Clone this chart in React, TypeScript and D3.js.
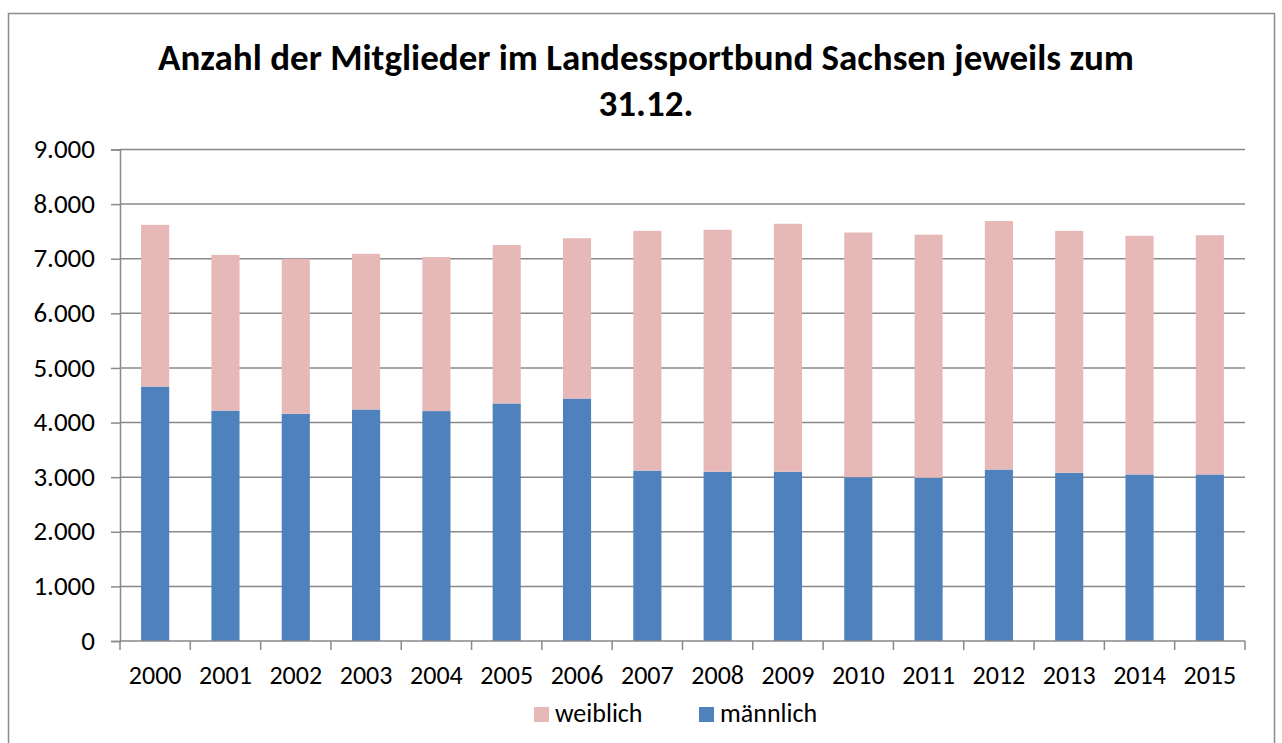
import React, { useEffect, useRef } from 'react';
import * as d3 from 'd3';

// Data
const years = ['2000', '2001', '2002', '2003', '2004', '2005', '2006', '2007',
  '2008', '2009', '2010', '2011', '2012', '2013', '2014', '2015'];
const maennlich = [4660, 4220, 4160, 4240, 4210, 4350, 4440, 3120,
  3100, 3100, 3000, 2990, 3140, 3080, 3050, 3050];
const weiblich = [2960, 2850, 2840, 2850, 2820, 2900, 2935, 4390,
  4430, 4540, 4480, 4450, 4550, 4430, 4370, 4380];
const yTicks = [0, 1000, 2000, 3000, 4000, 5000, 6000, 7000, 8000, 9000];
const titleLines = ['Anzahl der Mitglieder im Landessportbund Sachsen jeweils zum', '31.12.'];

const W = 1282;
const H = 743;
const FONT = "Carlito, Calibri, 'Open Sans', sans-serif";

const App = () => {
  const svgRef = useRef<SVGSVGElement | null>(null);

  useEffect(() => {
    if (!svgRef.current) return;
    const svg = d3.select(svgRef.current);
    svg.selectAll('*').remove();

    const left = 120, right = 1245, top = 149.5, bottom = 641;
    const grid = '#898989';

    // outer frame
    svg.append('rect')
      .attr('x', 8.5).attr('y', 13.5)
      .attr('width', 1266).attr('height', 800)
      .attr('fill', '#fff')
      .attr('stroke', '#8c8c8c')
      .attr('stroke-width', 1.5);

    // title
    svg.append('g')
      .selectAll('text')
      .data(titleLines)
      .join('text')
      .attr('x', 646)
      .attr('y', (d, i) => 70 + i * 46)
      .attr('text-anchor', 'middle')
      .attr('font-family', FONT)
      .attr('font-weight', 'bold')
      .attr('font-size', 37)
      .attr('fill', '#000')
      .text(d => d);

    const x = d3.scaleBand()
      .domain(years)
      .range([left, right])
      .paddingInner(0.6)
      .paddingOuter(0.3);

    const y = d3.scaleLinear()
      .domain([0, 9000])
      .range([bottom, top]);

    const fmt = d3.formatLocale({ decimal: ',', thousands: '.', grouping: [3], currency: ['', '€'] }).format(',');

    // grid lines
    svg.append('g')
      .selectAll('line')
      .data(yTicks.filter(t => t > 0))
      .join('line')
      .attr('x1', left).attr('x2', right)
      .attr('y1', d => y(d)).attr('y2', d => y(d))
      .attr('stroke', grid)
      .attr('stroke-width', 1.5);

    // stacked bars
    const rows = years.map((yr, i) => ({ year: yr, maennlich: maennlich[i], weiblich: weiblich[i] }));
    const stack = d3.stack<any>().keys(['maennlich', 'weiblich'])(rows);
    const colors: Record<string, string> = { maennlich: '#4F81BD', weiblich: '#E6B9B8' };

    svg.append('g')
      .selectAll('g')
      .data(stack)
      .join('g')
      .attr('fill', d => colors[d.key])
      .selectAll('rect')
      .data(d => d)
      .join('rect')
      .attr('x', d => x(d.data.year)!)
      .attr('width', x.bandwidth())
      .attr('y', d => y(d[1]))
      .attr('height', d => y(d[0]) - y(d[1]));

    // y axis
    const yAxis = svg.append('g')
      .attr('transform', `translate(${left},0)`)
      .call(d3.axisLeft(y).tickValues(yTicks).tickSize(9).tickPadding(16).tickFormat(d => fmt(d as number)));
    yAxis.select('.domain').attr('stroke', grid).attr('stroke-width', 1.5);
    yAxis.selectAll('.tick line').attr('stroke', grid).attr('stroke-width', 1.5);
    yAxis.selectAll('.tick text')
      .attr('font-family', FONT)
      .attr('font-size', 27)
      .attr('fill', '#000')
      .attr('dy', '0.3em');

    // x axis: line plus ticks at category boundaries
    const step = (right - left) / years.length;
    svg.append('line')
      .attr('x1', left).attr('x2', right)
      .attr('y1', bottom).attr('y2', bottom)
      .attr('stroke', grid).attr('stroke-width', 1.5);
    svg.append('g')
      .selectAll('line')
      .data(d3.range(years.length + 1))
      .join('line')
      .attr('x1', i => left + i * step).attr('x2', i => left + i * step)
      .attr('y1', bottom).attr('y2', bottom + 9)
      .attr('stroke', grid).attr('stroke-width', 1.5);
    svg.append('g')
      .selectAll('text')
      .data(years)
      .join('text')
      .attr('x', d => x(d)! + x.bandwidth() / 2)
      .attr('y', 684)
      .attr('text-anchor', 'middle')
      .attr('font-family', FONT)
      .attr('font-size', 26)
      .attr('fill', '#000')
      .text(d => d);

    // legend
    const legend = [
      { key: 'weiblich', label: 'weiblich', x: 534 },
      { key: 'maennlich', label: 'männlich', x: 699 },
    ];
    const lg = svg.append('g').selectAll('g').data(legend).join('g')
      .attr('transform', d => `translate(${d.x},707)`);
    lg.append('rect')
      .attr('width', 15).attr('height', 15)
      .attr('fill', d => colors[d.key]);
    lg.append('text')
      .attr('x', 21).attr('y', 14.7)
      .attr('font-family', FONT)
      .attr('font-size', 26)
      .attr('fill', '#000')
      .text(d => d.label);
  }, []);

  return (
    <svg
      ref={svgRef}
      width={W}
      height={H}
      style={{ position: 'absolute', left: 0, top: 0, display: 'block', background: '#fff' }}
    />
  );
};

export default App;
